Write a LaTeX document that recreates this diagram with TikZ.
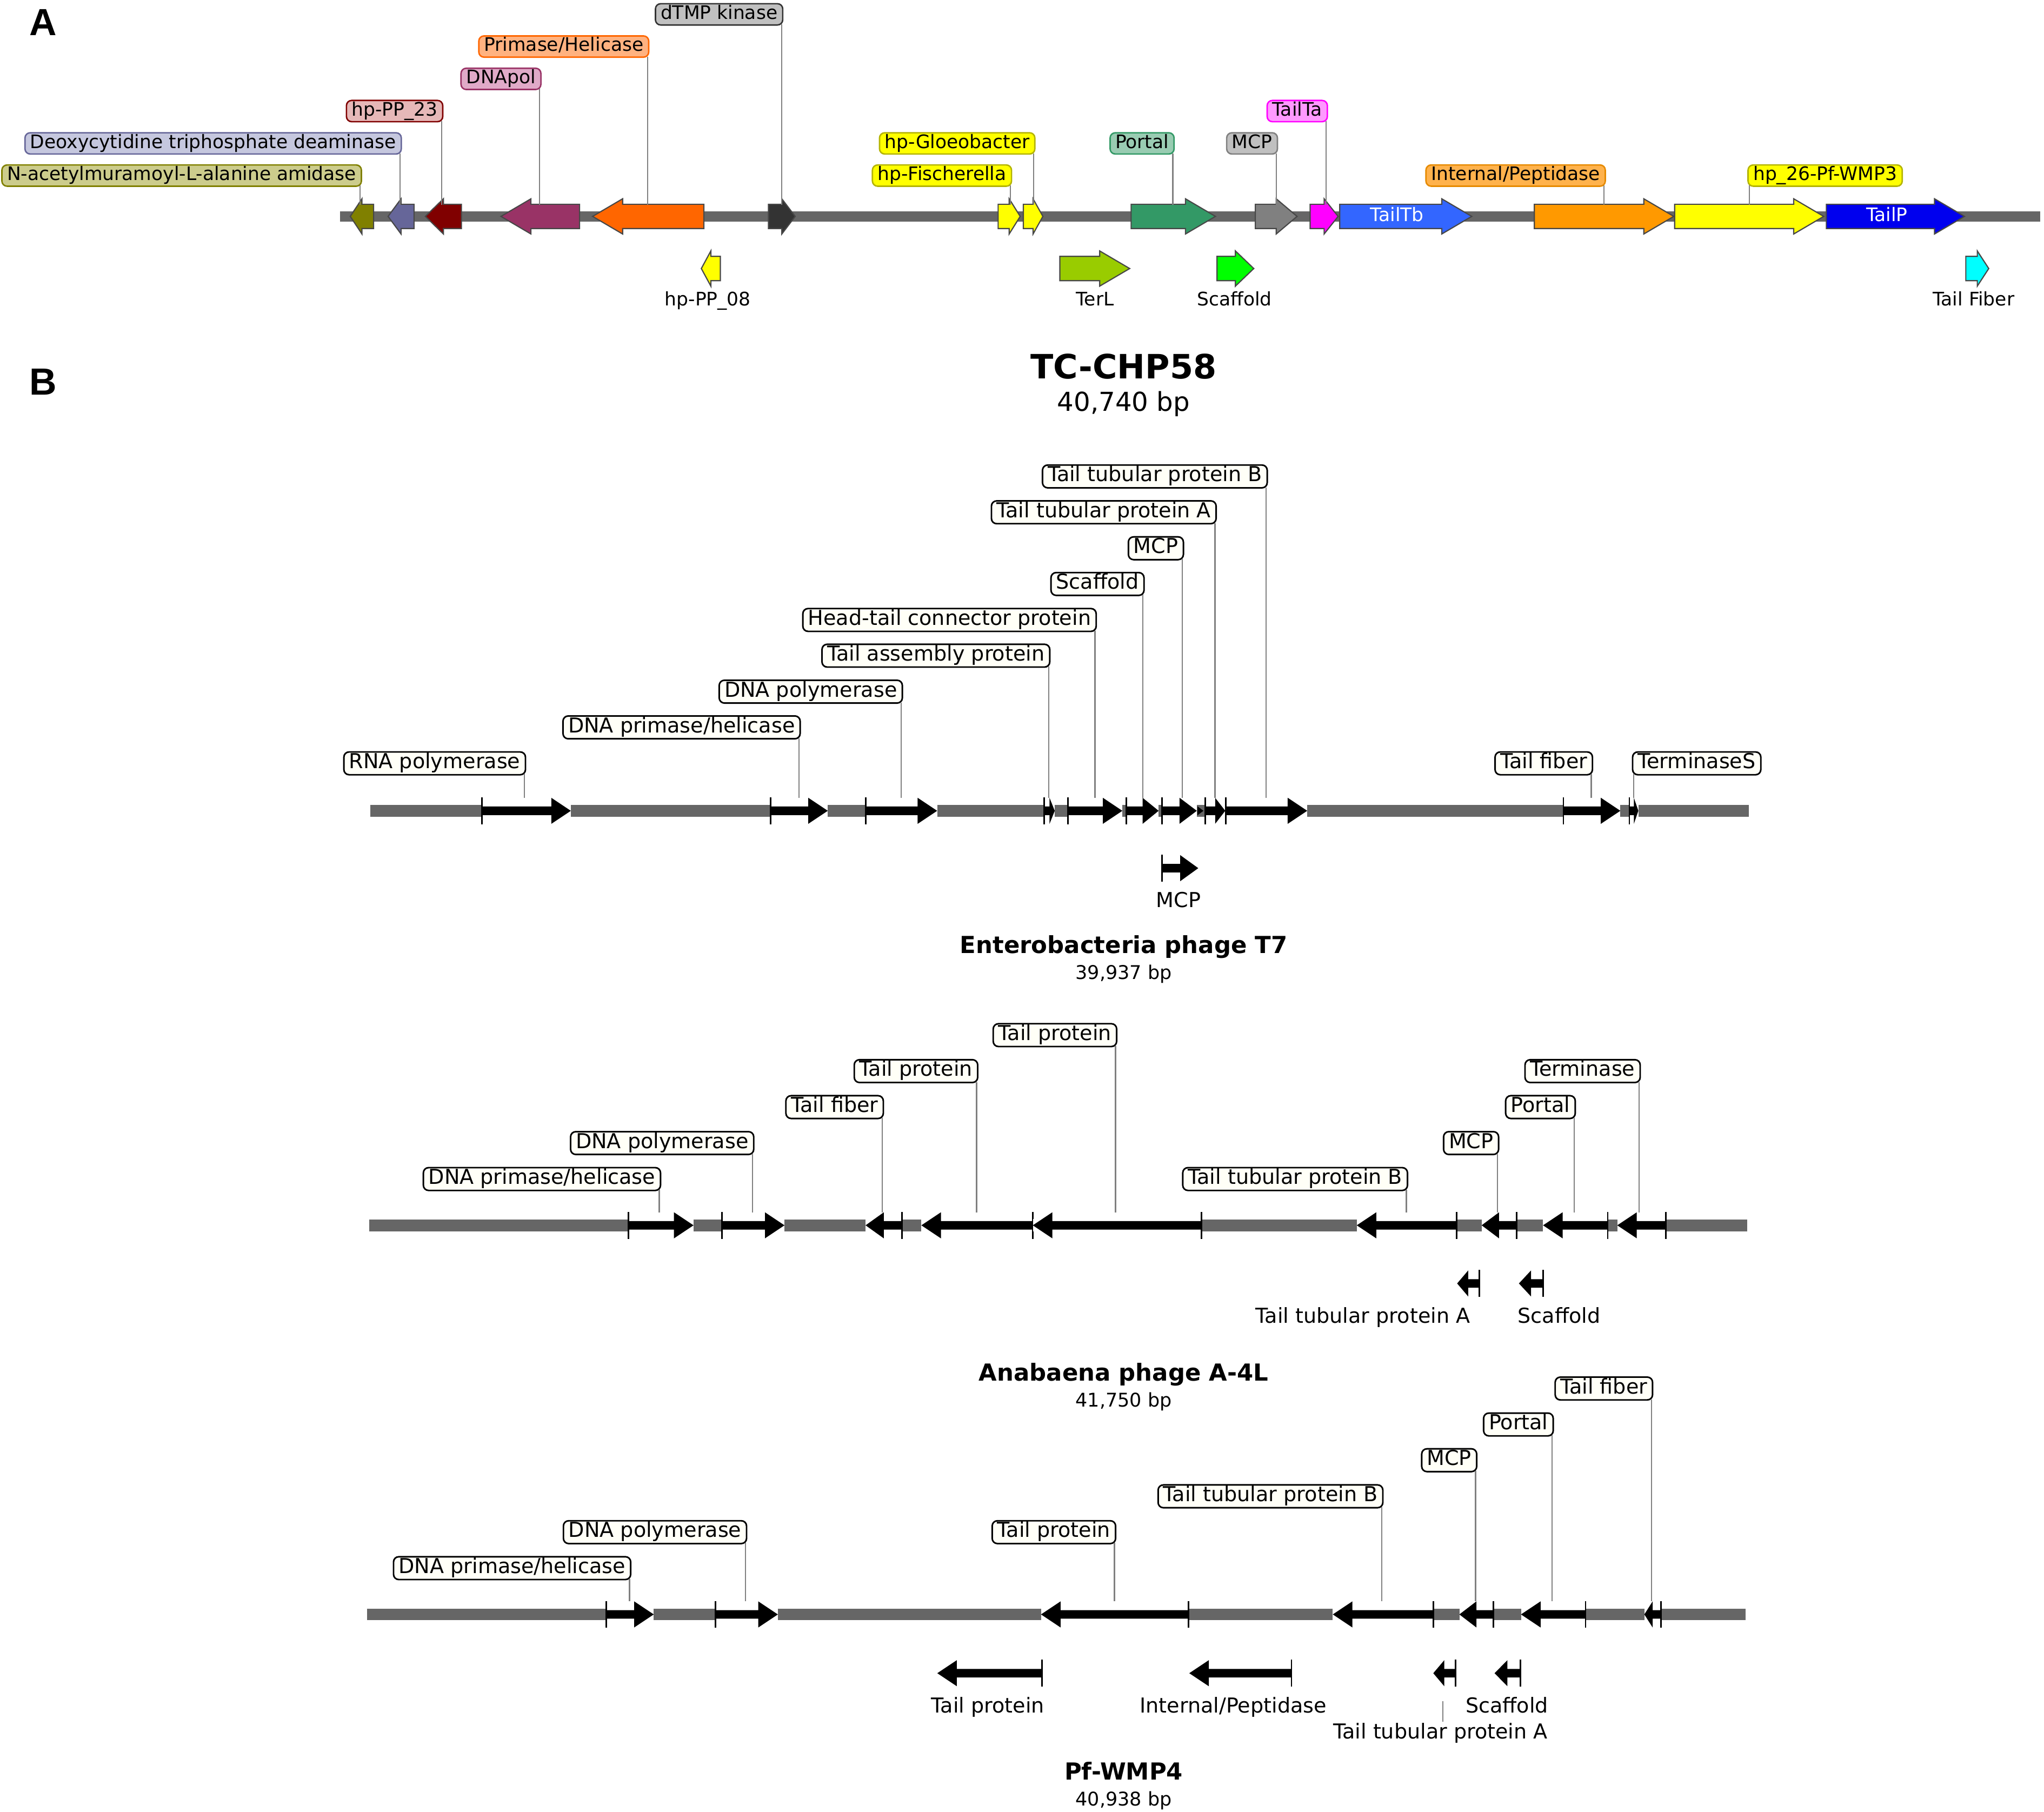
\documentclass[tikz,border=0pt]{standalone}
\usepackage{fontspec}
\setmainfont{DejaVu Sans}
\newfontfamily\panelfont{Liberation Sans}
\definecolor{bb}{RGB}{102,102,102}
\definecolor{ldr}{RGB}{128,128,128}
\definecolor{cIvory}{RGB}{255,255,247}
\definecolor{cOlive}{RGB}{128,128,0}
\definecolor{cOliveL}{RGB}{204,204,140}
\definecolor{cSlate}{RGB}{102,102,153}
\definecolor{cSlateL}{RGB}{197,199,222}
\definecolor{cDRed}{RGB}{128,0,0}
\definecolor{cDRedL}{RGB}{230,184,184}
\definecolor{cPlum}{RGB}{153,51,102}
\definecolor{cPlumL}{RGB}{224,170,200}
\definecolor{cOrng}{RGB}{255,102,0}
\definecolor{cOrngL}{RGB}{255,178,128}
\definecolor{cDark}{RGB}{51,51,51}
\definecolor{cDarkL}{RGB}{192,192,192}
\definecolor{cYel}{RGB}{255,255,0}
\definecolor{cYelD}{RGB}{180,180,0}
\definecolor{cPort}{RGB}{51,153,102}
\definecolor{cPortL}{RGB}{153,204,178}
\definecolor{cMCP}{RGB}{128,128,128}
\definecolor{cMCPL}{RGB}{192,192,192}
\definecolor{cMag}{RGB}{255,0,255}
\definecolor{cMagL}{RGB}{255,153,255}
\definecolor{cTb}{RGB}{51,102,255}
\definecolor{cInt}{RGB}{255,153,0}
\definecolor{cIntL}{RGB}{255,178,76}
\definecolor{cIntD}{RGB}{230,138,0}
\definecolor{cTP}{RGB}{0,0,238}
\definecolor{cTerL}{RGB}{153,204,0}
\definecolor{cScaf}{RGB}{0,255,0}
\definecolor{cCyan}{RGB}{0,255,255}

\tikzset{
  agene/.style={draw=black!72, line width=0.9pt, line join=miter},
  bbA/.style={draw=bb, line width=8pt},
  bbB/.style={draw=bb, line width=9pt},
  btick/.style={draw=black, line width=1.2pt},
  aleader/.style={draw=ldr, line width=0.9pt},
  bleader/.style={draw=ldr, line width=1pt},
  lbE/.style={anchor=east, xshift=1.5pt},
  lbW/.style={anchor=west, xshift=-1.5pt},
  alab/.style={line width=1.1pt, rounded corners=4pt, font=\fontsize{14.3}{16}\selectfont,
    inner xsep=4pt, inner ysep=1.2pt, text height=10.6pt, text depth=3.3pt},
  blab/.style={draw=black, line width=1.2pt, fill=cIvory, rounded corners=4pt,
    font=\fontsize{15.8}{18}\selectfont, inner xsep=4pt, inner ysep=1.4pt,
    text height=11.3pt, text depth=3.4pt},
  atxt/.style={font=\fontsize{14.3}{16}\selectfont, inner sep=0pt, text height=10.6pt, text depth=3.3pt},
  btxt/.style={font=\fontsize{15.8}{18}\selectfont, inner sep=0pt, text height=11.3pt, text depth=3.4pt},
  ttl/.style={font=\fontsize{18}{20}\selectfont\bfseries, anchor=base, inner sep=0pt},
  sub/.style={font=\fontsize{14.5}{16}\selectfont, anchor=base, inner sep=0pt},
  panel/.style={font=\panelfont\fontsize{29}{30}\selectfont\bfseries, inner sep=0pt}
}

% panel A genes
\newcommand{\geneAR}[4]{%
  \pgfmathsetmacro\hlen{min(23,(#2-#1)/2)}%
  \draw[agene, fill=#4] (#1,#3-9.3) -- (#2-\hlen,#3-9.3) -- (#2-\hlen,#3-13.5) -- (#2,#3)
    -- (#2-\hlen,#3+13.5) -- (#2-\hlen,#3+9.3) -- (#1,#3+9.3) -- cycle;}
\newcommand{\geneAL}[4]{%
  \pgfmathsetmacro\hlen{min(23,(#2-#1)/2)}%
  \draw[agene, fill=#4] (#2,#3-9.3) -- (#1+\hlen,#3-9.3) -- (#1+\hlen,#3-13.5) -- (#1,#3)
    -- (#1+\hlen,#3+13.5) -- (#1+\hlen,#3+9.3) -- (#2,#3+9.3) -- cycle;}
% panel B genes
\newcommand{\geneBR}[3]{%
  \pgfmathsetmacro\hlen{min(15,(#2-#1)/2)}%
  \fill[white] (#1,#3-4.8) rectangle (#2,#3+4.8);
  \fill[black] (#1,#3-3.3) -- (#2-\hlen,#3-3.3) -- (#2-\hlen,#3-10) -- (#2,#3)
    -- (#2-\hlen,#3+10) -- (#2-\hlen,#3+3.3) -- (#1,#3+3.3) -- cycle;
  \draw[btick] (#1,#3-10.3) -- (#1,#3+10.3);}
\newcommand{\geneBL}[3]{%
  \pgfmathsetmacro\hlen{min(15,(#2-#1)/2)}%
  \fill[white] (#1,#3-4.8) rectangle (#2,#3+4.8);
  \fill[black] (#2,#3-3.3) -- (#1+\hlen,#3-3.3) -- (#1+\hlen,#3-10) -- (#1,#3)
    -- (#1+\hlen,#3+10) -- (#1+\hlen,#3+3.3) -- (#2,#3+3.3) -- cycle;
  \draw[btick] (#2,#3-10.3) -- (#2,#3+10.3);}
% labels
\newcommand{\labA}[7]{%
  \coordinate (#1t) at (#3,157);
  \node[alab, fill=#5, draw=#6, #2] (#1) at (#3,#4) {#7};
  \draw[aleader] ([yshift=1pt]#1.south -| #1t) -- (#1t);}
\newcommand{\labB}[6]{%
  \coordinate (#1t) at (#3,#5);
  \node[blab, #2] (#1) at (#3,#4) {#6};
  \draw[bleader] ([yshift=1pt]#1.south -| #1t) -- (#1t);}

\begin{document}
\begin{tikzpicture}[x=1pt,y=-1pt]
\fill[white] (0,0) rectangle (1568,1390);
\useasboundingbox (0,0) rectangle (1568,1390);

%================ Panel A ================
\node[panel] (pA) at (33,17) {A};
\draw[bbA] (261,166) -- (1565,166);
\geneAL{268.7}{286.6}{166}{cOlive}
\geneAL{297.7}{317.6}{166}{cSlate}
\geneAL{326.3}{354}{166}{cDRed}
\geneAL{384.3}{444.6}{166}{cPlum}
\geneAL{454.6}{540}{166}{cOrng}
\geneAR{589.5}{610}{166}{cDark}
\geneAR{765.7}{782.6}{166}{cYel}
\geneAR{785}{800}{166}{cYel}
\geneAR{867.7}{932.4}{166}{cPort}
\geneAR{963}{995}{166}{cMCP}
\geneAR{1005}{1026.5}{166}{cMag}
\geneAR{1027.7}{1129}{166}{cTb}
\geneAR{1177}{1284}{166}{cInt}
\geneAR{1284.6}{1399}{166}{cYel}
\geneAR{1401}{1507}{166}{cTP}
\node[atxt, text=white] (nTb) at (1071.7,166) {TailTb};
\node[atxt, text=white] (nTP) at (1447.5,166) {TailP};

\geneAL{538}{552.6}{206}{cYel}
\geneAR{813}{866.6}{206}{cTerL}
\geneAR{933.6}{961.8}{206}{cScaf}
\geneAR{1508}{1525.6}{206}{cCyan}
\node[atxt] (tA1) at (543,231) {hp-PP\_08};
\node[atxt] (tA2) at (840,231) {TerL};
\node[atxt] (tA3) at (947,231) {Scaffold};
\node[atxt] (tA4) at (1514,231) {Tail Fiber};

\labA{la1}{lbE}{276.3}{134.7}{cOliveL}{cOlive}{N-acetylmuramoyl-L-alanine amidase}
\labA{la2}{lbE}{306.9}{110}{cSlateL}{cSlate}{Deoxycytidine triphosphate deaminase}
\labA{la3}{lbE}{338.7}{85.2}{cDRedL}{cDRed}{hp-PP\_23}
\labA{la4}{lbE}{414}{60.5}{cPlumL}{cPlum}{DNApol}
\labA{la5}{lbE}{496.7}{35.7}{cOrngL}{cOrng}{Primase/Helicase}
\labA{la6}{lbE}{599.5}{11}{cDarkL}{cDark}{dTMP kinase}
\labA{la7}{lbE}{775}{134.7}{cYel}{cYelD}{hp-Fischerella}
\labA{la8}{lbE}{792.9}{110}{cYel}{cYelD}{hp-Gloeobacter}
\labA{la9}{lbE}{899.7}{110}{cPortL}{cPort}{Portal}
\labA{la10}{lbE}{979}{110}{cMCPL}{cMCP}{MCP}
\labA{la11}{lbE}{1017.3}{85.2}{cMagL}{cMag}{TailTa}
\labA{la12}{lbE}{1230.5}{134.7}{cIntL}{cIntD}{Internal/Peptidase}
\labA{la13}{lbW}{1341.9}{134.7}{cYel}{cYelD}{hp\_26-Pf-WMP3}

%================ Panel B ================
\node[panel] (pB) at (33,293) {B};
\node[font=\fontsize{25.7}{28}\selectfont\bfseries, anchor=base, inner sep=0pt] (ttop) at (862,290.4) {TC-CHP58};
\node[font=\fontsize{20}{22}\selectfont, anchor=base, inner sep=0pt] (stop) at (862,315.3) {40,740 bp};

% --- map 1: Enterobacteria phage T7
\draw[bbB] (284.1,622) -- (1341.7,622);
\geneBR{369.6}{437.9}{622}
\geneBR{591.2}{635}{622}
\geneBR{664.1}{718.9}{622}
\geneBR{801.1}{809.1}{622}
\geneBR{819.2}{861}{622}
\geneBR{864.2}{888.8}{622}
\geneBR{891.5}{918.1}{622}
\fill[black] (918.6,618.6) -- (923.2,622) -- (918.6,625.4) -- cycle;
\geneBR{924.4}{939.9}{622}
\geneBR{940.2}{1002.8}{622}
\geneBR{1199.3}{1243}{622}
\geneBR{1249.9}{1256.8}{622}
\labB{t1}{lbE}{402.2}{585.6}{612}{RNA polymerase}
\labB{t2}{lbE}{612.9}{558}{612}{DNA primase/helicase}
\labB{t3}{lbE}{691.3}{530.6}{612}{DNA polymerase}
\labB{t4}{lbE}{804.4}{503}{612}{Tail assembly protein}
\labB{t5}{lbE}{840}{475.6}{612}{Head-tail connector protein}
\labB{t6}{lbE}{876.7}{448}{612}{Scaffold}
\labB{t7}{lbE}{906.9}{420.6}{612}{MCP}
\labB{t8}{lbE}{932}{393}{612}{Tail tubular protein A}
\labB{t9}{lbE}{971.2}{365.5}{612}{Tail tubular protein B}
\labB{t10}{lbE}{1220.7}{585.6}{612}{Tail fiber}
\labB{t11}{lbW}{1253.3}{585.6}{612}{TerminaseS}
\geneBR{891.5}{919.2}{666}
\node[btxt] (m1a) at (904,692) {MCP};
\node[ttl] (n1) at (862,731.5) {Enterobacteria phage T7};
\node[sub] (s1) at (862,751.3) {39,937 bp};

% --- map 2: Anabaena phage A-4L
\draw[bbB] (283.1,940) -- (1340.4,940);
\geneBR{482}{532}{940}
\geneBR{554}{601.8}{940}
\geneBL{664}{692}{940}
\geneBL{706.8}{792.3}{940}
\geneBL{792.3}{921.8}{940}
\geneBL{1040.8}{1117.4}{940}
\geneBL{1136.6}{1163.3}{940}
\geneBL{1183.7}{1233.3}{940}
\geneBL{1240.6}{1278}{940}
\labB{u1}{lbE}{505.8}{904.5}{930}{DNA primase/helicase}
\labB{u2}{lbE}{577.3}{876.9}{930}{DNA polymerase}
\labB{u3}{lbE}{676.7}{849.3}{930}{Tail fiber}
\labB{u4}{lbE}{749.1}{821.7}{930}{Tail protein}
\labB{u5}{lbE}{855.7}{794.1}{930}{Tail protein}
\labB{u6}{lbE}{1078.8}{904.5}{930}{Tail tubular protein B}
\labB{u7}{lbE}{1148.7}{876.9}{930}{MCP}
\labB{u8}{lbE}{1207.5}{849.3}{930}{Portal}
\labB{u9}{lbE}{1257.3}{821.7}{930}{Terminase}
\geneBL{1117.8}{1134.8}{984.6}
\geneBL{1165.2}{1183.8}{984.6}
\node[btxt] (m2a) at (1045.5,1011) {Tail tubular protein A};
\node[btxt] (m2b) at (1196,1011) {Scaffold};
\node[ttl] (n2) at (862,1059.5) {Anabaena phage A-4L};
\node[sub] (s2) at (862,1079.3) {41,750 bp};

% --- map 3: Pf-WMP4
\draw[bbB] (281.4,1238.5) -- (1339.2,1238.5);
\geneBR{465.1}{501.5}{1238.5}
\geneBR{548.9}{596.7}{1238.5}
\geneBL{798.6}{911.6}{1238.5}
\geneBL{1022.4}{1099.5}{1238.5}
\geneBL{1119.5}{1145.6}{1238.5}
\geneBL{1166.8}{1216.3}{1238.5}
\geneBL{1261.4}{1274.1}{1238.5}
\labB{v1}{lbE}{482.9}{1203}{1228.5}{DNA primase/helicase}
\labB{v2}{lbE}{571.8}{1175.4}{1228.5}{DNA polymerase}
\labB{v3}{lbE}{854.9}{1175.4}{1228.5}{Tail protein}
\labB{v4}{lbE}{1059.9}{1147.9}{1228.5}{Tail tubular protein B}
\labB{v5}{lbE}{1131.9}{1120.2}{1228.5}{MCP}
\labB{v6}{lbE}{1190.6}{1092.8}{1228.5}{Portal}
\labB{v7}{lbE}{1266.8}{1065.2}{1228.5}{Tail fiber}
\geneBL{719}{799.5}{1283.6}
\geneBL{912.3}{990.7}{1283.6}
\geneBL{1099.5}{1116.4}{1283.6}
\geneBL{1146.5}{1166.2}{1283.6}
\node[btxt] (m3a) at (757.8,1310) {Tail protein};
\node[btxt] (m3b) at (946,1310) {Internal/Peptidase};
\node[btxt] (m3c) at (1105,1330) {Tail tubular protein A};
\node[btxt] (m3d) at (1156,1310) {Scaffold};
\coordinate (m3cp) at (1106.8,1305);
\draw[bleader] ([yshift=1.5pt]m3c.north -| m3cp) -- (m3cp);
\node[ttl] (n3) at (862,1365.5) {Pf-WMP4};
\node[sub] (s3) at (862,1385.3) {40,938 bp};
\end{tikzpicture}
\end{document}
